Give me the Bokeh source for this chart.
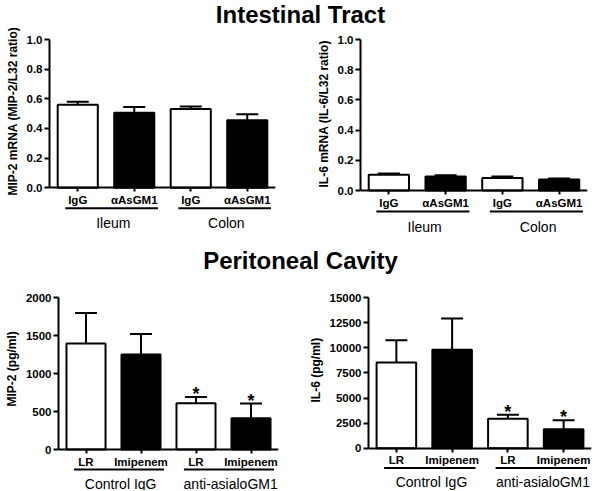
from bokeh.plotting import figure
from bokeh.models import (FactorRange, Range1d, FixedTicker, ColumnDataSource,
                          PrintfTickFormatter, Title)
from bokeh.layouts import column, row
from bokeh.embed import file_html
from bokeh.resources import INLINE
from bokeh.core.properties import value

FONT = "Liberation Sans"

# ---------------- data ----------------
tract_groups = ["Ileum", "Colon"]
tract_cats = ["IgG", "\u03b1AsGM1"]
mip2_mrna = [0.56, 0.505, 0.53, 0.455]
mip2_mrna_err = [0.02, 0.04, 0.017, 0.04]
il6_mrna = [0.105, 0.092, 0.082, 0.073]
il6_mrna_err = [0.007, 0.009, 0.01, 0.006]
mrna_ticks = [0, 0.2, 0.4, 0.6, 0.8, 1.0]

perit_groups = ["Control IgG", "anti-asialoGM1"]
perit_cats = ["LR", "Imipenem"]
mip2_pg = [1395, 1250, 610, 410]
mip2_pg_err = [400, 270, 80, 195]
il6_pg = [8550, 9800, 2950, 1900]
il6_pg_err = [2200, 3100, 400, 900]
mip2_ticks = [0, 500, 1000, 1500, 2000]
il6_ticks = [0, 2500, 5000, 7500, 10000, 12500, 15000]
perit_significant = [False, False, True, True]

bar_fills = ["white", "black", "white", "black"]

titles = ["Intestinal Tract", "Peritoneal Cavity"]


def title_fig(text, width, height):
    p = figure(width=width, height=height, x_range=Range1d(0, 1), y_range=Range1d(0, 1),
               toolbar_location=None, output_backend="svg", min_border=0)
    p.axis.visible = False
    p.grid.visible = False
    p.outline_line_color = None
    p.text(x=[0.5], y=[0.5], text=[text], text_align="center", text_baseline="middle",
           text_font=value(FONT), text_font_style="bold", text_font_size="24px",
           text_color="black")
    return p


def panel(groups, cats, vals, errs, ticks, fmt, ylabel, label_offset, width, height,
          b_left, b_right, b_top, data_h, under_px, glabel_px, sig=None):
    factors = [(g, c) for g in groups for c in cats]
    top = ticks[-1]
    below_px = height - b_top - data_h
    upp = top / data_h  # data units per pixel
    y_start = -below_px * upp
    p = figure(width=width, height=height,
               x_range=FactorRange(*factors, range_padding=0, factor_padding=0,
                                   group_padding=0, subgroup_padding=0),
               y_range=Range1d(y_start, top),
               toolbar_location=None, output_backend="svg", min_border=0)
    p.min_border_left = b_left
    p.min_border_right = b_right
    p.min_border_top = b_top
    p.min_border_bottom = 0
    p.grid.visible = False
    p.outline_line_color = None

    hi = [v + e for v, e in zip(vals, errs)]
    src = ColumnDataSource(dict(x=factors, v=vals, hi=hi, fill=bar_fills))
    p.segment(x0="x", y0="v", x1="x", y1="hi", line_color="black", line_width=2, source=src)
    p.rect(x="x", y="hi", width=22, width_units="screen", height=2, height_units="screen",
           fill_color="black", line_color=None, source=src)
    p.vbar(x="x", top="v", width=0.71, fill_color="fill", line_color="black",
           line_width=2, source=src)

    if sig is not None:
        sx = [f for f, s in zip(factors, sig) if s]
        sy = [h for h, s in zip(hi, sig) if s]
        p.text(x=sx, y=sy, text=["*"] * len(sx), text_align="center",
               text_baseline="alphabetic", y_offset=-3, text_font=value(FONT),
               text_font_style="bold", text_font_size="18px", text_color="black")

    # group underlines and labels
    n = len(cats)
    ux0 = [n * i + 0.28 for i in range(len(groups))]
    ux1 = [n * i + 1.92 for i in range(len(groups))]
    uy = [-under_px * upp] * len(groups)
    p.segment(x0=ux0, y0=uy, x1=ux1, y1=uy, line_color="black", line_width=2)
    gx = [n * i + 1.13 for i in range(len(groups))]
    gy = [-glabel_px * upp] * len(groups)
    p.text(x=gx, y=gy, text=groups, text_align="center", text_baseline="middle",
           text_font=value(FONT), text_font_size="14px", text_color="black")

    # axes
    xa = p.xaxis[0]
    xa.fixed_location = 0
    xa.axis_line_width = 2
    xa.axis_line_color = "black"
    xa.major_tick_line_width = 2
    xa.major_tick_line_color = "black"
    xa.major_tick_out = 4
    xa.major_tick_in = 0
    xa.minor_tick_line_color = None
    xa.major_label_standoff = 2
    xa.major_label_text_font = FONT
    xa.major_label_text_font_style = "bold"
    xa.major_label_text_font_size = "11.5px"
    xa.major_label_text_color = "black"
    xa.group_text_color = None
    xa.separator_line_color = None
    xa.major_label_orientation = "horizontal"

    ya = p.yaxis[0]
    ya.bounds = (0, top)
    ya.ticker = FixedTicker(ticks=ticks)
    ya.formatter = PrintfTickFormatter(format=fmt)
    ya.axis_line_width = 2
    ya.axis_line_color = "black"
    ya.major_tick_line_width = 2
    ya.major_tick_line_color = "black"
    ya.major_tick_out = 5
    ya.major_tick_in = 0
    ya.minor_tick_line_color = None
    ya.major_label_standoff = 2
    ya.major_label_text_font = FONT
    ya.major_label_text_font_style = "bold"
    ya.major_label_text_font_size = "11.5px"
    ya.major_label_text_color = "black"

    # y-axis title placed along the 0..top span of the axis (frame extends below 0)
    p.add_layout(Title(text=ylabel, align="left", offset=label_offset,
                       vertical_align="middle", standoff=6,
                       text_font=FONT, text_font_style="bold", text_font_size="12px",
                       text_color="black"), "left")
    return p


t1 = title_fig(titles[0], 600, 28)
p1 = panel(tract_groups, tract_cats, mip2_mrna, mip2_mrna_err, mrna_ticks, "%.1f",
           "MIP-2 mRNA (MIP-2/L32 ratio)", 51, 300, 218, 49, 25, 7, 151, 21, 36)
p2 = panel(tract_groups, tract_cats, il6_mrna, il6_mrna_err, mrna_ticks, "%.1f",
           "IL-6 mRNA (IL-6/L32 ratio)", 59, 300, 218, 60, 13, 11, 151, 21, 36)
t2 = title_fig(titles[1], 600, 28)
p3 = panel(perit_groups, perit_cats, mip2_pg, mip2_pg_err, mip2_ticks, "%d",
           "MIP-2 (pg/ml)", 84, 300, 216, 49, 22, 23, 152, 20, 34, perit_significant)
p4 = panel(perit_groups, perit_cats, il6_pg, il6_pg_err, il6_ticks, "%d",
           "IL-6 (pg/ml)", 88, 300, 216, 68, 9, 19, 154, 20, 34, perit_significant)

layout = column(t1, row(p1, p2), t2, row(p3, p4))

open("out.html", "w").write(file_html(layout, INLINE))
